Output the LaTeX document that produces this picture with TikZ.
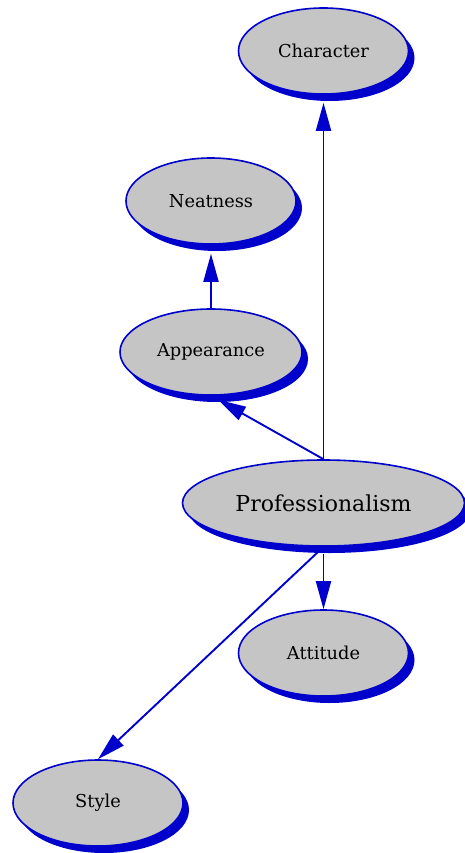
\documentclass[tikz,border=0pt]{standalone}
\usepackage{fontspec}
\setmainfont{DejaVu Serif}
\usetikzlibrary{arrows.meta,shadows,shapes.geometric}
\definecolor{edgeblue}{RGB}{0,0,205}
\definecolor{nodegray}{RGB}{197,197,197}
\tikzset{
  ell/.style={ellipse, draw=edgeblue, line width=1.6pt, fill=nodegray, inner sep=0pt,
    minimum width=170pt, minimum height=86pt, font=\fontsize{17.8}{20}\selectfont,
    general shadow={shadow xshift=6pt, shadow yshift=-7pt, fill=edgeblue}},
  conn/.style={draw=edgeblue, line width=1.9pt, -{Triangle[length=28pt,width=15pt]}}
}
\begin{document}
\begin{tikzpicture}[x=1pt,y=-1pt]
\useasboundingbox (0,0) rectangle (465,853);
\node[ell] (C) at (323.5,51) {Character};
\node[ell] (N) at (211,201) {Neatness};
\node[ell, minimum width=182pt] (A) at (211,352) {Appearance};
\node[ell, minimum width=282pt, font=\fontsize{22}{24}\selectfont] (P) at (323.5,503) {Professionalism};
\node[ell] (T) at (323.5,653) {Attitude};
\node[ell] (S) at (98,803) {Style};
\draw[conn, shorten >=8pt] (P.north) -- (C.south);
\draw[conn, shorten >=8pt] (P.north) -- (A.south);
\draw[conn, shorten >=9pt] (A.north) -- (N.south);
\draw[conn, shorten <=7pt] (P.south) -- (T.north);
\draw[conn, shorten <=7pt] (P.south) -- (S.north);
\end{tikzpicture}
\end{document}
